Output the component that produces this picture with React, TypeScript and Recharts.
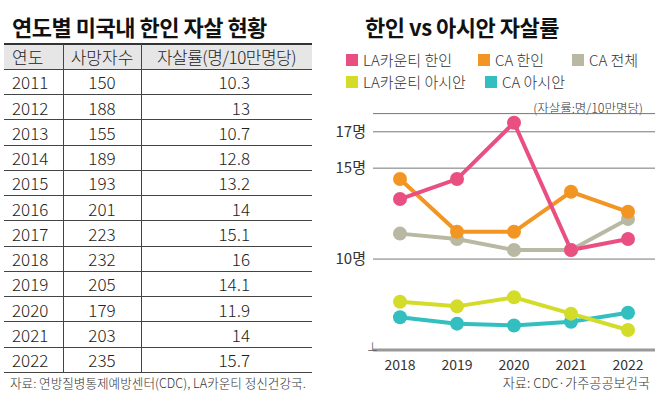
import { LineChart, Line, XAxis, YAxis, CartesianGrid } from "recharts";

const tableYears = ["2011", "2012", "2013", "2014", "2015", "2016", "2017", "2018", "2019", "2020", "2021", "2022"];
const deaths = [150, 188, 155, 189, 193, 201, 223, 232, 205, 179, 203, 235];
const rates = ["10.3", "13", "10.7", "12.8", "13.2", "14", "15.1", "16", "14.1", "11.9", "14", "15.7"];

const years = ["2018", "2019", "2020", "2021", "2022"];
const laKorean = [13.3, 14.4, 17.5, 10.5, 11.1];
const caKorean = [14.4, 11.5, 11.5, 13.7, 12.6];
const caTotal = [11.4, 11.1, 10.5, 10.5, 12.2];
const laAsian = [7.65, 7.4, 7.9, 7.0, 6.1];
const caAsian = [6.8, 6.45, 6.35, 6.55, 7.05];
const yTicks = [10, 15, 17];

const series = [
  { key: "caTotal", name: "CA 전체", color: "#b9b8a2" },
  { key: "caAsian", name: "CA 아시안", color: "#33bfc0" },
  { key: "laAsian", name: "LA카운티 아시안", color: "#d4dc2a" },
  { key: "caKorean", name: "CA 한인", color: "#f39522" },
  { key: "laKorean", name: "LA카운티 한인", color: "#e94f80" },
];

const data = years.map((y, i) => ({
  year: y,
  laKorean: laKorean[i],
  caKorean: caKorean[i],
  caTotal: caTotal[i],
  laAsian: laAsian[i],
  caAsian: caAsian[i],
}));

const font = "'Noto Sans CJK KR', 'Noto Sans', sans-serif";
const colorOf = (k: string) => series.find((s) => s.key === k)!.color;

const LegendItem = ({ k, label, x, y }: { k: string; label: string; x: number; y: number }) => (
  <div style={{ position: "absolute", left: x, top: y, display: "flex", alignItems: "center", gap: 5 }}>
    <span style={{ width: 12, height: 12, background: colorOf(k), display: "inline-block" }} />
    <span style={{ fontSize: 15, color: "#333", lineHeight: "16px", fontWeight: 300 }}>{label}</span>
  </div>
);

const ROW_H = 25.25;
const TOP = 44;
const txt = { position: "absolute", fontSize: 17, color: "#222", lineHeight: `${ROW_H}px`, fontWeight: 300, whiteSpace: "nowrap" } as const;

const Row = ({ i, a, b, c, header }: { i: number; a: string; b: string; c: string; header?: boolean }) => {
  const top = TOP + i * ROW_H;
  return (
    <>
      {header && <div style={{ position: "absolute", left: 4, top, width: 308, height: ROW_H, background: "#e6e6e6" }} />}
      <div style={{ ...txt, top, left: 12 }}>{a}</div>
      <div style={{ ...txt, top, left: 63, width: 78, textAlign: "center" }}>{b}</div>
      {header ? (
        <div style={{ ...txt, top, left: 141, width: 171, textAlign: "center", letterSpacing: -0.5 }}>{c}</div>
      ) : (
        <div style={{ ...txt, top, left: 141, width: 109, textAlign: "right" }}>{c}</div>
      )}
      <div style={{ position: "absolute", left: 4, top: top + ROW_H - 0.5, width: 308, height: 1, background: "#444" }} />
    </>
  );
};

export default function App() {
  const tableBottom = TOP + (tableYears.length + 1) * ROW_H;
  return (
    <div style={{ position: "fixed", left: 0, top: 0, width: 655, height: 396, background: "#fff", fontFamily: font, overflow: "hidden" }}>
      {/* left: table */}
      <div style={{ position: "absolute", left: 12, top: 10, fontSize: 22, fontWeight: 700, color: "#111", letterSpacing: -0.5 }}>
        연도별 미국내 한인 자살 현황
      </div>
      <Row i={0} a="연도" b="사망자수" c="자살률(명/10만명당)" header />
      {tableYears.map((y, i) => (
        <Row key={y} i={i + 1} a={y} b={String(deaths[i])} c={rates[i]} />
      ))}
      <div style={{ position: "absolute", left: 4, top: TOP - 1, width: 308, height: 2, background: "#333" }} />
      <div style={{ position: "absolute", left: 63, top: TOP, width: 1, height: tableBottom - TOP, background: "#444" }} />
      <div style={{ position: "absolute", left: 141, top: TOP, width: 1, height: tableBottom - TOP, background: "#444" }} />
      <div style={{ position: "absolute", left: 10, top: 373, fontSize: 12.6, color: "#333", fontWeight: 300, whiteSpace: "nowrap" }}>
        자료: 연방질병통제예방센터(CDC), LA카운티 정신건강국.
      </div>

      {/* right: chart */}
      <div style={{ position: "absolute", left: 365, top: 10, fontSize: 22, fontWeight: 700, color: "#111", letterSpacing: -0.5 }}>
        한인 vs 아시안 자살률
      </div>
      <LegendItem k="laKorean" label="LA카운티 한인" x={346} y={52} />
      <LegendItem k="caKorean" label="CA 한인" x={478} y={52} />
      <LegendItem k="caTotal" label="CA 전체" x={572} y={52} />
      <LegendItem k="laAsian" label="LA카운티 아시안" x={346} y={74} />
      <LegendItem k="caAsian" label="CA 아시안" x={485} y={74} />
      <div style={{ position: "absolute", right: 12, top: 98, fontSize: 12.5, color: "#333", fontWeight: 300 }}>
        (자살률:명/10만명당)
      </div>

      <div style={{ position: "absolute", left: 330, top: 100 }}>
        <LineChart width={325} height={296} data={data} margin={{ top: 13.6, right: 0, bottom: 16, left: 3 }}>
          <CartesianGrid vertical={false} stroke="#777" strokeWidth={1} />
          <XAxis
            dataKey="year"
            padding={{ left: 27, right: 27 }}
            height={30}
            axisLine={{ stroke: "#999", strokeWidth: 3 }}
            tickLine={false}
            tickMargin={4}
            tick={{ fontSize: 14, fill: "#333", fontFamily: font }}
          />
          <YAxis
            domain={[5, 18]}
            ticks={yTicks}
            width={40}
            axisLine={false}
            tickLine={false}
            tickMargin={1}
            tickFormatter={(v: number) => `${v}명`}
            tick={{ fontSize: 15, fill: "#333", fontFamily: font }}
          />
          {series.map((s) => (
            <Line
              key={s.key}
              dataKey={s.key}
              name={s.name}
              stroke={s.color}
              strokeWidth={4}
              dot={{ r: 7, fill: s.color, stroke: s.color, strokeWidth: 0 }}
              isAnimationActive={false}
            />
          ))}
        </LineChart>
      </div>
      <div style={{ position: "absolute", left: 367, top: 338, fontSize: 11, color: "#555" }}>⊥</div>
      <div style={{ position: "absolute", right: 5, top: 373, fontSize: 13.2, color: "#333", fontWeight: 300, whiteSpace: "nowrap" }}>
        자료: CDC·가주공공보건국
      </div>
    </div>
  );
}
